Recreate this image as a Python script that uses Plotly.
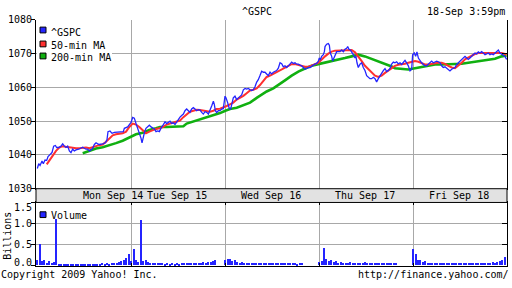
import plotly.graph_objects as go

# ---------------- data ----------------
# time in trading days since Mon Sep 14 09:30 (1.0 = one full session)
gspc_t = [0.000,0.015,0.029,0.050,0.064,0.082,0.100,0.114,0.135,0.156,0.174,0.192,0.206,0.227,0.252,0.270,0.288,0.305,0.323,0.341,
          0.358,0.376,0.394,0.412,0.440,0.465,0.483,0.500,0.518,0.536,0.554,0.571,0.589,0.607,0.625,0.642,0.660,0.695,0.724,0.741,
          0.752,0.773,0.795,0.820,0.855,0.890,0.915,0.926,0.944,0.961,0.979,0.997,1.015,1.032,1.050,1.068,1.085,1.103,1.114,1.128,
          1.142,1.156,1.174,1.192,1.210,1.227,1.245,1.263,1.281,1.298,
          1.305,1.323,1.341,1.359,1.376,1.394,1.412,1.429,1.447,1.465,1.483,1.500,1.518,1.536,1.554,1.571,1.589,1.607,1.624,1.642,
          1.660,1.678,1.695,1.713,1.731,1.749,1.766,1.784,1.802,1.820,1.837,1.855,1.873,1.883,1.894,1.908,1.926,1.944,1.961,1.979,
          1.997,2.007,2.025,2.043,2.057,2.071,2.085,2.103,2.121,2.139,2.156,2.174,2.192,2.210,2.227,2.245,2.263,2.280,2.298,2.316,
          2.334,2.351,2.369,2.387,2.405,2.422,2.440,2.458,2.476,2.493,2.511,2.529,2.546,2.564,2.582,2.600,2.617,
          2.635,2.653,2.671,2.688,2.706,2.724,2.742,2.759,2.777,2.795,2.812,2.830,2.848,2.866,2.883,2.901,2.919,2.937,2.954,2.972,
          2.990,3.000,3.011,3.025,3.043,3.054,3.061,3.078,3.096,3.107,3.117,3.132,3.142,3.153,3.167,3.185,3.202,3.220,3.238,3.256,
          3.273,3.291,3.302,3.316,3.330,3.344,3.362,3.380,3.390,3.401,3.415,3.433,3.451,3.468,3.486,3.504,3.522,3.539,3.557,3.575,
          3.593,3.610,3.628,3.646,3.663,3.681,3.699,3.717,3.734,3.752,3.770,3.788,
          3.805,3.823,3.841,3.859,3.876,3.894,3.912,3.929,3.947,3.965,3.983,3.993,4.011,4.025,4.039,4.054,4.071,4.089,4.107,4.124,
          4.142,4.160,4.178,4.195,4.213,4.231,4.249,4.266,4.284,4.302,4.319,4.337,4.355,4.373,4.390,4.408,4.426,4.444,4.461,4.479,
          4.497,4.515,4.532,4.550,4.568,4.585,4.603,4.621,4.639,4.656,4.674,4.692,4.709,4.727,4.745,4.763,4.780,4.798,4.816,4.834,
          4.851,4.869,4.887,4.905,4.922,4.940,4.958,4.976,4.993]
gspc_p = [1036.0,1037.4,1036.9,1038.2,1037.4,1038.5,1038.4,1039.5,1040.1,1040.7,1042.6,1042.8,1042.2,1042.2,1042.6,1043.3,1042.6,1042.2,1042.6,1041.2,
          1040.7,1041.7,1041.2,1041.5,1041.7,1042.2,1042.3,1042.0,1041.7,1041.7,1041.2,1041.5,1042.0,1043.1,1043.6,1043.3,1043.1,1043.3,1043.6,1044.5,
          1046.9,1047.1,1046.4,1046.7,1046.7,1046.7,1046.9,1047.9,1048.0,1048.3,1049.0,1049.6,1051.1,1050.9,1049.3,1047.9,1046.4,1045.0,1043.6,1045.5,
          1046.9,1047.9,1048.3,1048.8,1048.3,1048.0,1047.7,1046.9,1047.1,1046.9,
          1047.4,1048.3,1049.0,1049.8,1049.3,1049.8,1050.0,1049.3,1049.5,1049.0,1049.8,1050.2,1051.2,1051.7,1052.1,1053.1,1053.6,1053.1,1052.6,1053.6,
          1054.0,1053.6,1053.1,1053.4,1053.3,1052.6,1052.1,1052.8,1052.6,1052.1,1053.1,1054.5,1055.9,1055.0,1053.1,1052.6,1053.1,1053.1,1053.6,1053.7,
          1057.4,1056.9,1055.5,1053.7,1053.6,1055.5,1056.9,1057.4,1056.4,1056.9,1057.4,1057.8,1059.3,1059.7,1059.5,1059.7,1059.3,1059.1,1059.3,1060.2,
          1061.6,1062.3,1063.5,1064.8,1064.5,1064.5,1064.0,1063.5,1064.5,1064.0,1064.5,1064.8,1065.0,1065.7,1067.3,1067.0,1066.1,
          1066.4,1065.9,1066.4,1067.1,1067.5,1067.1,1067.3,1066.9,1066.9,1066.6,1066.4,1065.9,1065.4,1065.6,1065.9,1065.9,1066.4,1066.6,1066.9,1067.1,
          1067.8,1068.7,1068.3,1069.2,1069.7,1070.6,1072.1,1072.8,1073.0,1072.5,1070.2,1069.2,1067.8,1068.5,1069.7,1070.6,1070.6,1070.6,1071.1,1070.6,
          1071.3,1071.6,1072.1,1071.3,1071.1,1070.6,1069.7,1068.7,1069.2,1067.3,1065.9,1066.9,1067.3,1065.9,1065.0,1063.5,1063.0,1062.6,1062.6,1063.0,
          1062.6,1061.6,1062.6,1063.5,1064.5,1065.0,1065.6,1064.7,1065.0,1065.6,1066.9,1067.5,
          1067.3,1067.6,1067.0,1067.3,1066.8,1067.6,1068.0,1067.3,1066.4,1064.9,1065.4,1069.7,1070.2,1069.2,1070.5,1068.7,1067.8,1067.3,1066.8,1066.4,
          1066.4,1066.8,1067.3,1067.8,1067.3,1067.6,1067.8,1067.6,1067.3,1066.4,1065.9,1066.1,1065.7,1065.4,1064.9,1065.4,1065.7,1065.9,1066.8,1067.3,
          1067.8,1068.3,1068.9,1069.2,1068.7,1068.3,1068.7,1069.2,1069.7,1070.2,1069.9,1070.5,1070.2,1070.6,1070.2,1069.7,1069.9,1070.2,1069.7,1069.9,
          1069.7,1070.2,1070.5,1071.1,1070.2,1069.9,1069.7,1069.2,1068.3]

ma50_t = [0.100,0.128,0.163,0.199,0.234,0.270,0.305,0.341,0.376,0.412,0.447,0.483,0.518,0.554,0.589,0.625,0.660,0.695,0.731,0.766,
          0.802,0.837,0.873,0.908,0.944,0.979,1.015,1.050,1.085,1.121,1.156,1.192,1.227,1.263,1.298,
          1.341,1.376,1.412,1.447,1.483,1.518,1.554,1.589,1.624,1.660,1.695,1.731,1.766,1.802,1.837,1.873,1.908,1.944,1.979,2.014,
          2.050,2.085,2.121,2.156,2.192,2.227,2.263,2.298,2.334,2.369,2.405,2.440,2.476,2.511,2.546,2.582,2.617,
          2.635,2.671,2.706,2.742,2.777,2.812,2.848,2.883,2.919,2.954,2.990,3.025,3.061,3.096,3.132,3.167,3.202,3.238,3.273,3.309,
          3.344,3.380,3.415,3.451,3.486,3.522,3.557,3.593,3.628,3.663,3.699,3.734,3.770,
          3.805,3.841,3.876,3.912,3.947,3.983,4.018,4.054,4.089,4.124,4.160,4.195,4.231,4.266,4.302,4.337,4.373,4.408,4.444,4.479,
          4.515,4.550,4.585,4.621,4.656,4.692,4.727,4.763,4.798,4.834,4.869,4.905,4.940,4.976,4.993]
ma50_p = [1037.2,1038.4,1039.8,1041.2,1042.2,1042.6,1042.4,1042.2,1042.0,1042.0,1042.0,1042.2,1042.2,1042.0,1042.2,1042.6,1042.9,1043.1,1043.9,1045.0,
          1045.8,1046.1,1046.3,1046.4,1046.9,1048.3,1049.3,1049.0,1048.3,1047.4,1046.4,1046.9,1047.4,1047.7,1047.9,
          1048.3,1049.0,1049.3,1049.6,1049.8,1050.2,1051.2,1052.1,1052.8,1053.1,1053.4,1053.3,1053.1,1052.8,1052.8,1053.1,1053.6,1053.7,1054.0,1054.5,
          1055.0,1055.5,1056.4,1056.9,1057.5,1058.3,1059.1,1059.3,1059.7,1060.7,1062.1,1063.1,1063.5,1064.0,1064.5,1065.0,1065.7,
          1065.9,1066.4,1066.9,1066.9,1066.6,1066.4,1066.1,1066.1,1066.4,1066.9,1067.3,1068.3,1069.2,1070.0,1070.6,1070.9,1070.9,1071.1,1071.1,1071.1,
          1071.1,1070.4,1069.2,1067.8,1066.4,1065.4,1064.5,1063.5,1063.1,1063.5,1064.3,1065.0,1065.6,
          1066.4,1066.7,1066.8,1067.0,1067.3,1067.6,1067.8,1067.6,1067.3,1066.8,1066.8,1067.0,1067.3,1067.3,1067.3,1067.0,1066.4,1065.9,1065.7,1066.4,
          1067.3,1068.3,1068.9,1069.5,1069.9,1070.2,1070.2,1070.2,1070.2,1070.2,1070.2,1070.2,1070.2,1069.9,1069.7]

ma200_t = [0.483,0.554,0.625,0.695,0.766,0.837,0.908,0.979,1.050,1.121,1.192,1.263,
           1.305,1.376,1.447,1.518,1.554,1.589,1.660,1.731,1.802,1.873,1.944,2.000,2.050,2.121,2.192,2.263,2.334,2.369,2.440,2.511,2.582,
           2.635,2.706,2.777,2.848,2.919,2.990,3.061,3.132,3.202,3.273,3.344,3.415,3.486,3.557,3.628,3.699,3.770,
           3.805,3.876,3.947,4.018,4.089,4.160,4.231,4.302,4.373,4.444,4.515,4.585,4.656,4.727,4.798,4.869,4.940,4.993]
ma200_p = [1040.5,1041.2,1041.9,1042.3,1042.8,1043.5,1044.2,1045.2,1046.1,1046.6,1047.4,1047.9,
           1048.3,1048.3,1048.3,1048.3,1048.5,1049.3,1049.9,1050.5,1051.2,1051.8,1052.4,1053.1,1053.6,1054.0,1054.7,1055.5,1056.9,1057.5,1058.8,1059.7,1061.2,
           1062.1,1063.5,1064.7,1065.6,1066.4,1066.9,1067.3,1067.8,1068.3,1068.7,1069.2,1069.7,1069.2,1068.5,1067.8,1066.9,1066.2,
           1065.7,1065.4,1065.3,1065.7,1066.1,1066.6,1066.8,1066.8,1066.8,1066.8,1067.0,1067.3,1067.6,1067.8,1068.3,1068.5,1069.2,1069.5]

# volume in billions, 10-minute buckets (39 per session)
vol_mon = [0.12,0.50,0.10,0.12,0.07,0.10,0.05,0.08,1.10,0.04,0.03,0.04,0.03,0.03,0.04,0.03,0.03,0.02,0.03,0.03,
           0.04,0.03,0.03,0.04,0.03,0.04,0.04,0.05,0.04,0.05,0.04,0.05,0.06,0.07,0.08,0.10,0.12,0.18,0.28]
vol_tue = [0.10,0.38,0.12,0.08,1.08,0.10,0.12,0.08,0.06,0.07,0.05,0.06,0.05,0.05,0.04,0.05,0.04,0.05,0.04,0.05,
           0.04,0.05,0.05,0.06,0.05,0.06,0.05,0.06,0.07,0.06,0.08,0.07,0.09,0.08,0.10,0.12,0.00,0.00,0.00]
vol_wed = [0.14,0.16,0.15,0.10,0.12,0.08,0.06,0.08,0.05,0.06,0.07,0.05,0.07,0.06,0.05,0.06,0.06,0.05,0.05,0.06,
           0.05,0.06,0.05,0.06,0.07,0.05,0.06,0.07,0.05,0.06,0.04,0.05,0.05,0.00,0.00,0.00,0.00,0.00,0.00]
vol_thu = [0.08,0.10,0.42,0.16,0.10,0.12,0.08,0.10,0.07,0.08,0.06,0.07,0.06,0.08,0.07,0.06,0.07,0.05,0.06,0.08,
           0.06,0.07,0.06,0.05,0.06,0.05,0.06,0.05,0.06,0.05,0.06,0.05,0.07,0.00,0.00,0.00,0.00,0.00,0.00]
vol_fri = [0.39,0.26,0.12,0.14,0.08,0.10,0.07,0.06,0.07,0.05,0.06,0.05,0.06,0.05,0.05,0.06,0.05,0.06,0.05,0.06,
           0.07,0.05,0.06,0.05,0.06,0.07,0.05,0.06,0.07,0.06,0.05,0.07,0.06,0.08,0.07,0.08,0.10,0.12,0.20]

day_labels = ["Mon Sep 14", "Tue Sep 15", "Wed Sep 16", "Thu Sep 17", "Fri Sep 18"]
price_ticks = [1030, 1040, 1050, 1060, 1070, 1080]
vol_ticks = [0.0, 0.5, 1.0, 1.5]

# ---------------- layout helpers ----------------
W, H = 512, 288
def px(x): return x / W
def py(y): return 1 - y / H

BLUE = "#2424ff"
RED = "#ff3030"
GREEN = "#10b010"
GRID = "#a8a8a8"
FONT = "DejaVu Sans Mono"

vol_days = [vol_mon, vol_tue, vol_wed, vol_thu, vol_fri]
vol_t, vol_v = [], []
for d, day in enumerate(vol_days):
    for k, v in enumerate(day):
        vol_t.append(d + k / 39)
        vol_v.append(v)

XR = [-0.014, 4.997]
XD = [px(36), px(507)]

fig = go.Figure()
fig.add_trace(go.Scatter(x=ma200_t, y=ma200_p, mode="lines", line=dict(color=GREEN, width=2.6),
                         xaxis="x", yaxis="y", hoverinfo="skip"))
fig.add_trace(go.Scatter(x=ma50_t, y=ma50_p, mode="lines", line=dict(color=RED, width=2),
                         xaxis="x", yaxis="y", hoverinfo="skip"))
fig.add_trace(go.Scatter(x=gspc_t, y=gspc_p, mode="lines", line=dict(color=BLUE, width=1.3),
                         xaxis="x", yaxis="y", hoverinfo="skip"))
fig.add_trace(go.Bar(x=vol_t, y=vol_v, width=0.0145, marker=dict(color=BLUE, line=dict(width=0)),
                     xaxis="x2", yaxis="y2", hoverinfo="skip"))
fig.add_trace(go.Scatter(x=[None], y=[None], xaxis="x", yaxis="y3", hoverinfo="skip"))
fig.add_trace(go.Scatter(x=[None], y=[None], xaxis="x2", yaxis="y4", hoverinfo="skip"))

common_x = dict(range=XR, domain=XD, tickvals=[1, 2, 3, 4], showticklabels=False,
                showgrid=True, gridcolor=GRID, gridwidth=1, zeroline=False,
                showline=True, linecolor="black", linewidth=1, fixedrange=True)

annotations = []
def txt(s, x, y, xanchor="left", **kw):
    annotations.append(dict(text=s, x=x, y=y, xref=kw.pop("xref", "paper"), yref="paper",
                            xanchor=xanchor, yanchor="middle", showarrow=False,
                            font=dict(family=FONT, size=10, color="black"), **kw))

txt("^GSPC", px(256.5), py(7), "center")
txt("18-Sep 3:59pm", px(507), py(7), "right")
txt("Copyright 2009 Yahoo! Inc.", px(-1), py(280.5), "left")
txt("http://finance.yahoo.com/", px(511), py(280.5), "right")
label_pos = [0.805, 1.486, 2.486, 3.49, 4.486]
for lab, xp in zip(day_labels, label_pos):
    txt(lab, xp, py(198.5), "center", xref="x")
# legend texts
txt("^GSPC", px(49), py(28.5))
txt("50-min MA", px(49), py(42))
txt("200-min MA", px(49), py(55))
txt("Volume", px(49), py(219))
txt("Billions", px(8), py(240), "center", textangle=-90)
txt("1.5", px(34), py(210.5), "right")
txt("0.0", px(34), py(268), "right")

shapes = [
    dict(type="rect", xref="paper", yref="paper", x0=px(36), x1=px(507), y0=py(205.3), y1=py(191),
         fillcolor="#e2e2e2", line=dict(color="black", width=1)),
    dict(type="rect", xref="paper", yref="paper", x0=px(37), x1=px(112), y0=py(60), y1=py(19),
         fillcolor="white", line=dict(width=0)),
]
for yc, col in [(26, BLUE), (40.5, RED), (53, GREEN), (218, BLUE)]:
    shapes.append(dict(type="rect", xref="paper", yref="paper", x0=px(40), x1=px(46),
                       y0=py(yc + 3), y1=py(yc - 3), fillcolor=col, line=dict(color="black", width=1)))

fig.update_layout(
    width=W, height=H, margin=dict(l=0, r=0, t=0, b=0),
    paper_bgcolor="white", plot_bgcolor="white", showlegend=False,
    font=dict(family=FONT, size=10, color="black"),
    bargap=0,
    xaxis=dict(anchor="y", ticks="", **common_x),
    xaxis2=dict(anchor="y2", ticks="inside", ticklen=3, tickcolor="black", mirror="ticks", **common_x),
    yaxis=dict(anchor="x", domain=[py(191), py(15.5)], range=[1030, 1080], tickvals=price_ticks,
               ticks="outside", ticklen=4, tickcolor="black", showgrid=True, gridcolor=GRID,
               zeroline=False, showline=True, mirror=True, linecolor="black", fixedrange=True,
               ticklabelstandoff=-3, tickfont=dict(family=FONT, size=10)),
    yaxis2=dict(anchor="x2", domain=[py(271.3), py(205.3)], range=[0, 1.5], tickvals=vol_ticks,
                ticktext=["", "0.5", "1.0", ""], ticks="outside", ticklen=4, tickcolor="black",
                showgrid=True, gridcolor=GRID, zeroline=False, showline=True, mirror=True,
                linecolor="black", fixedrange=True, ticklabelstandoff=-3,
                tickfont=dict(family=FONT, size=10)),
    yaxis3=dict(overlaying="y", anchor="x", side="right", range=[1030, 1080], tickvals=price_ticks[1:-1],
                ticks="inside", ticklen=5, tickcolor="black", showticklabels=False, showgrid=False,
                zeroline=False, showline=False, fixedrange=True),
    yaxis4=dict(overlaying="y2", anchor="x2", side="right", range=[0, 1.5], tickvals=[0.5, 1.0],
                ticks="inside", ticklen=5, tickcolor="black", showticklabels=False, showgrid=False,
                zeroline=False, showline=False, fixedrange=True),
    annotations=annotations, shapes=shapes,
)

fig.write_html("out.html", config={"displayModeBar": False})
